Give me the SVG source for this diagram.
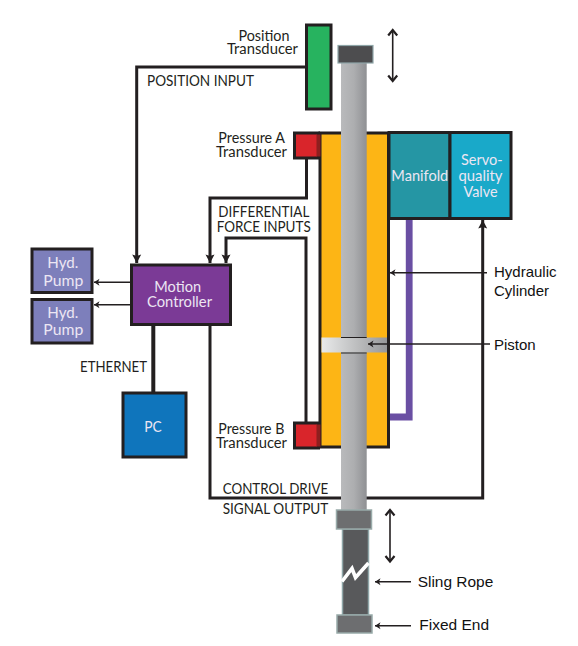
<svg xmlns="http://www.w3.org/2000/svg" width="578" height="646" viewBox="0 0 578 646">
<style>
.t{font-family:Lato,"Open Sans",sans-serif;font-size:14.5px;fill:#231f20}
.w{font-family:Lato,"Open Sans",sans-serif;font-size:15px;fill:#ece6f3}
.a{font-family:"Liberation Sans",Arial,sans-serif;font-size:15px;fill:#111}
.l{fill:none;stroke:#231f20;stroke-width:3}
.n{fill:none;stroke:#231f20;stroke-width:1.4}
.b{stroke:#231f20;stroke-width:3}
</style>
<defs>
<linearGradient id="rod" x1="0" x2="1" y1="0" y2="0"><stop offset="0" stop-color="#b9babc"/><stop offset=".5" stop-color="#adaeb0"/><stop offset="1" stop-color="#8f9093"/></linearGradient>
<linearGradient id="pis" x1="0" x2="1" y1="0" y2="0"><stop offset="0" stop-color="#e9eaea"/><stop offset="1" stop-color="#97989a"/></linearGradient>
<marker id="h" markerUnits="userSpaceOnUse" markerWidth="10" markerHeight="10" refX="9" refY="5" orient="auto-start-reverse"><path d="M0.5 0.5L9 5L0.5 9.500L2 5Z" fill="#231f20"/></marker>
<marker id="s" markerUnits="userSpaceOnUse" markerWidth="8" markerHeight="8" refX="6.500" refY="4" orient="auto"><path d="M1 0.5L6.500 4L1 7.500L2.500 4Z" fill="#231f20"/></marker>
<marker id="d" markerUnits="userSpaceOnUse" markerWidth="12" markerHeight="12" refX="9" refY="6" orient="auto-start-reverse"><path d="M3.500 1.500L9 6L3.500 10.500" fill="none" stroke="#231f20" stroke-width="2.200"/></marker>
</defs>
<rect width="578" height="646" fill="#fff"/>
<g id="connectors">
<path class="l" d="M306 67H136.700V263" marker-end="url(#h)"/>
<path class="l" d="M306.500 158V198H210V263" marker-end="url(#h)"/>
<path class="l" d="M306 422V238H226V263" marker-end="url(#h)"/>
<path d="M153.300 325V392" fill="none" stroke="#231f20" stroke-width="4"/>
<path class="l" d="M210 325V498H482.700V220" marker-end="url(#h)"/>
<path class="n" d="M130 282.300H94" marker-end="url(#s)"/>
<path class="n" d="M130 304.700H94" marker-end="url(#s)"/>
<path d="M392.700 30V81" fill="none" stroke="#231f20" stroke-width="1.600" marker-start="url(#d)" marker-end="url(#d)"/>
<path d="M390 510V561.500" fill="none" stroke="#231f20" stroke-width="1.600" marker-start="url(#d)" marker-end="url(#d)"/>
</g>
<g id="hydraulic-cylinder"><rect x="320" y="133" width="68.500" height="314" fill="#fdb515" class="b"/></g>
<g id="purple-line"><path d="M409.200 219V417H390" fill="none" stroke="#6a4fa3" stroke-width="6.800"/></g>
<g id="position-transducer"><rect x="306.500" y="25" width="24.500" height="84" fill="#27b35f" class="b"/><text class="t"><tspan x="238.500" y="40.700" textLength="51" lengthAdjust="spacingAndGlyphs">Position</tspan><tspan x="227" y="54.300" textLength="71" lengthAdjust="spacingAndGlyphs">Transducer</tspan></text></g>
<g id="pressure-a"><rect x="294.500" y="133" width="24" height="25" fill="#d9252b" class="b"/><rect x="316.500" y="134.500" width="4" height="22" fill="#8e1f1f"/><text class="t"><tspan x="218.300" y="143.300" textLength="66.700" lengthAdjust="spacingAndGlyphs">Pressure A</tspan><tspan x="216" y="157.300" textLength="71" lengthAdjust="spacingAndGlyphs">Transducer</tspan></text></g>
<g id="pressure-b"><rect x="294.500" y="423" width="24" height="25" fill="#d9252b" class="b"/><rect x="316.500" y="424.500" width="4" height="22" fill="#8e1f1f"/><text class="t"><tspan x="218.300" y="434" textLength="66" lengthAdjust="spacingAndGlyphs">Pressure B</tspan><tspan x="216" y="447.700" textLength="71" lengthAdjust="spacingAndGlyphs">Transducer</tspan></text></g>
<g id="rod-group"><rect x="341" y="63" width="25.700" height="447" fill="url(#rod)"/><rect x="321.500" y="337.500" width="65.500" height="15" fill="url(#pis)"/><path d="M341 337.500H366.700" stroke="#231f20" stroke-width="1"/><path d="M341 353H366.700" stroke="#555" stroke-width="1.500"/></g>
<g id="top-cap"><rect x="338" y="45.500" width="35" height="17.500" fill="#4d4d4f" stroke="#8fa6a8" stroke-width="1.200"/></g>
<g id="manifold"><rect x="389" y="132.500" width="61" height="86" fill="#2596a4" stroke="#231f20" stroke-width="3"/><text class="w" x="391.300" y="180.700" textLength="57" lengthAdjust="spacingAndGlyphs">Manifold</text></g>
<g id="valve"><rect x="450" y="132.500" width="61" height="86" fill="#19a9c9" stroke="#231f20" stroke-width="3"/><text class="w"><tspan x="461" y="165" textLength="41.700" lengthAdjust="spacingAndGlyphs">Servo-</tspan><tspan x="458.500" y="180.700" textLength="44" lengthAdjust="spacingAndGlyphs">quality</tspan><tspan x="463.500" y="196.700" textLength="34" lengthAdjust="spacingAndGlyphs">Valve</tspan></text></g>
<g id="motion-controller"><rect x="131.500" y="265" width="99" height="59.500" fill="#7b3a96" class="b"/><text class="w"><tspan x="154.300" y="291.700" textLength="46.700" lengthAdjust="spacingAndGlyphs">Motion</tspan><tspan x="147" y="306.700" textLength="65" lengthAdjust="spacingAndGlyphs">Controller</tspan></text></g>
<g id="pump-1"><rect x="32" y="249" width="60" height="43.500" fill="#7d7fbb" class="b"/><text class="w"><tspan x="47.300" y="268.300" textLength="31" lengthAdjust="spacingAndGlyphs">Hyd.</tspan><tspan x="43.300" y="285.500" textLength="40" lengthAdjust="spacingAndGlyphs">Pump</tspan></text></g>
<g id="pump-2"><rect x="32" y="299.500" width="60" height="43.500" fill="#7d7fbb" class="b"/><text class="w"><tspan x="47.300" y="318.300" textLength="31" lengthAdjust="spacingAndGlyphs">Hyd.</tspan><tspan x="43.300" y="335" textLength="40" lengthAdjust="spacingAndGlyphs">Pump</tspan></text></g>
<g id="pc"><rect x="123" y="393" width="63" height="64" fill="#0f75bc" class="b"/><text class="w" x="144.300" y="431.700" textLength="17.500" lengthAdjust="spacingAndGlyphs">PC</text></g>
<g id="rope"><rect x="342.500" y="529" width="26" height="86" fill="#58595b" stroke="#8fa6a8" stroke-width="1.500"/><path d="M342 581.500L352 568.500L355.500 577.500L368.500 563" fill="none" stroke="#fff" stroke-width="3.600"/></g>
<g id="bottom-cap"><rect x="336.500" y="510" width="35" height="19" fill="#6d6e70" stroke="#98aaa9" stroke-width="1.500"/></g>
<g id="fixed-end"><rect x="337" y="615" width="35" height="18" fill="#6d6e70" stroke="#98aaa9" stroke-width="1.500"/></g>
<g id="labels">
<text class="t" x="147" y="86" textLength="107" lengthAdjust="spacingAndGlyphs">POSITION INPUT</text>
<text class="t"><tspan x="218.300" y="216.700" textLength="91" lengthAdjust="spacingAndGlyphs">DIFFERENTIAL</tspan><tspan x="216.700" y="232" textLength="94" lengthAdjust="spacingAndGlyphs">FORCE INPUTS</tspan></text>
<text class="t" x="80" y="371.700" textLength="67" lengthAdjust="spacingAndGlyphs">ETHERNET</text>
<text class="t" x="222.700" y="494" textLength="105.600" lengthAdjust="spacingAndGlyphs">CONTROL DRIVE</text>
<text class="t" x="222.700" y="514" textLength="105.600" lengthAdjust="spacingAndGlyphs">SIGNAL OUTPUT</text>
<path class="n" d="M487 272.700H390" marker-end="url(#s)"/>
<path class="n" d="M490 344H368" marker-end="url(#s)"/>
<path class="n" d="M411 581.700H375" marker-end="url(#s)"/>
<path class="n" d="M411 625.700H375" marker-end="url(#s)"/>
<text class="a"><tspan x="494" y="277">Hydraulic</tspan><tspan x="494" y="295.500">Cylinder</tspan></text>
<text class="a" x="494" y="349.500">Piston</text>
<text class="a" x="417.700" y="587" textLength="75.600" lengthAdjust="spacingAndGlyphs">Sling Rope</text>
<text class="a" x="419.300" y="629.500" textLength="69.700" lengthAdjust="spacingAndGlyphs">Fixed End</text>
</g>
</svg>
